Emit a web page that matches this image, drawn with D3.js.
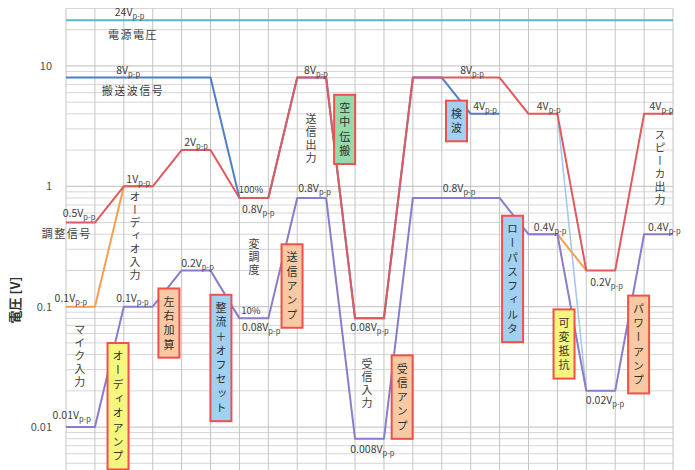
<!DOCTYPE html>
<html>
<head>
<meta charset="utf-8">
<script src="https://cdn.jsdelivr.net/npm/d3@7/dist/d3.min.js"></script>
<style>
  body { margin: 0; background: #fff; }
  text { font-family: "Noto Sans CJK JP", "Noto Sans", sans-serif; fill: #404040; }
  .vtext { writing-mode: vertical-rl; }
</style>
</head>
<body>
<svg id="chart" width="695" height="470"></svg>
<script>
// Signal levels (V p-p) at each stage of the AM transmitter / receiver chain.
const stages = [0,1,2,3,4,5,6,7,8,9,10,11,12,13,14,15,16,17,18,19,20,21];
const supplyV   = [24,24,24,24,24,24,24,24,24,24,24,24,24,24,24,24,24,24,24,24,24,24];
const carrierV  = [8,8,8,8,8,8,0.8,0.8,8,8,0.08,0.08,8,8,4,4,null,null,null,null,null,null];
const volumeMinV = [null,null,null,null,null,null,null,null,null,null,null,null,null,null,null,null,null,4,0.02,null,null,null];
const audioV    = [0.1,0.1,1,1,null,null,null,null,null,null,null,null,null,null,null,null,0.4,0.4,0.2,null,null,null];
const signalV   = [0.5,0.5,1,1,2,2,0.8,0.8,8,8,0.08,0.08,8,8,8,8,4,4,0.2,0.2,4,4];
const micV      = [0.01,0.01,0.1,0.1,0.2,0.2,0.08,0.08,0.8,0.8,0.008,0.008,0.8,0.8,0.8,0.8,0.4,0.4,0.02,0.02,0.4,0.4];
const yTicks = [0.01, 0.1, 1, 10];

// Level labels: stage position, level and vertical nudge
const levelLabels = [
  {i:2.2,  v:24,    dy:-4},
  {i:2.15, v:8,     dy:-4},
  {i:0.45, v:0.5,   dy:-6},
  {i:2.5,  v:1,     dy:-3},
  {i:4.5,  v:2,     dy:-4},
  {i:0.17, v:0.1,   dy:-5},
  {i:2.3,  v:0.1,   dy:-5},
  {i:4.55, v:0.2,   dy:-3},
  {i:0.2,  v:0.01,  dy:-8},
  {i:6.65, v:0.8,   dy:15},
  {i:6.75, v:0.08,  dy:13},
  {i:8.65, v:8,     dy:-4},
  {i:8.6,  v:0.8,   dy:-6},
  {i:10.5, v:0.08,  dy:13},
  {i:10.6, v:0.008, dy:14},
  {i:14.05,v:8,     dy:-4},
  {i:14.5, v:4,     dy:-4},
  {i:13.6, v:0.8,   dy:-6},
  {i:16.7, v:4,     dy:-4},
  {i:16.75,v:0.4,   dy:-3},
  {i:18.7, v:0.2,   dy:16},
  {i:18.65,v:0.02,  dy:13},
  {i:20.6, v:4,     dy:-4},
  {i:20.7, v:0.4,   dy:-3}
];
const percentLabels = [
  {text:"100%", i:6.4, v:0.8,  dy:-5},
  {text:"10%",  i:6.4, v:0.08, dy:-4}
];
const nameLabels = [
  {text:"電源電圧",   i:2.32, v:24,  dy:19},
  {text:"搬送波信号", i:2.32, v:8,   dy:17},
  {text:"調整信号",   i:0.03, v:0.5, dy:15}
];
const verticalLabels = [
  {text:"オーディオ入力", i:2.39,  v:0.379},
  {text:"マイク入力",     i:0.48,  v:0.0382},
  {text:"変調度",         i:6.5,   v:0.254},
  {text:"送信出力",       i:8.48,  v:2.47},
  {text:"受信入力",       i:10.41, v:0.0228},
  {text:"スピーカ出力",   i:20.55, v:1.42}
];
const blockLabels = [
  {text:"オーディオアンプ", i:1.8,   v:0.0149, kind:"yellow"},
  {text:"左右加算",         i:3.56,  v:0.0731, kind:"peach"},
  {text:"整流＋オフセット", i:5.36,  v:0.0375, kind:"blue"},
  {text:"送信アンプ",       i:7.82,  v:0.1485, kind:"peach"},
  {text:"空中伝搬",         i:9.64,  v:2.97,   kind:"green"},
  {text:"受信アンプ",       i:11.63, v:0.01775,kind:"peach"},
  {text:"検波",             i:13.51, v:3.49,   kind:"blue"},
  {text:"ローパスフィルタ", i:15.45, v:0.17,   kind:"blue"},
  {text:"可変抵抗",         i:17.23, v:0.049,  kind:"yellow"},
  {text:"パワーアンプ",     i:19.81, v:0.0485, kind:"peach"}
];
const blockFill = {yellow:"#f6f67e", peach:"#f8c9a2", blue:"#a2d0f0", green:"#95dba9"};

(function draw() {
  const svg = d3.select("#chart");
  const plotLeft = 66, plotRight = 673, plotTop = 8.5, plotBottom = 470;

  const x = d3.scaleLinear().domain([0, 21]).range([plotLeft, plotRight]);
  const y = d3.scaleLog().domain([0.0044, 30]).range([plotBottom, plotTop]);

  // grid
  const grid = svg.append("g");
  const minorVals = [];
  [0.001, 0.01, 0.1, 1, 10].forEach(d => {
    for (let k = 1; k <= 9; k++) {
      const v = +(d * k).toPrecision(3);
      if (v >= 0.0045 && v <= 30) minorVals.push(v);
    }
  });
  grid.selectAll("line.h").data(minorVals).join("line")
    .attr("x1", plotLeft).attr("x2", plotRight)
    .attr("y1", d => y(d)).attr("y2", d => y(d))
    .attr("stroke", d => yTicks.includes(d) ? "#bdbdbd" : "#d6d6d6")
    .attr("stroke-width", 1);
  grid.selectAll("line.v").data(stages).join("line")
    .attr("x1", d => x(d)).attr("x2", d => x(d))
    .attr("y1", plotTop).attr("y2", plotBottom)
    .attr("stroke", "#c4c4c4").attr("stroke-width", 1);

  // y axis
  const yAxis = svg.append("g").attr("transform", `translate(${plotLeft},0)`)
    .call(d3.axisLeft(y).tickValues(yTicks).tickFormat(d => String(d)).tickSize(0).tickPadding(14));
  yAxis.select(".domain").remove();
  yAxis.selectAll("text").style("font-size", "11px").style("fill", "#505050")
    .style("font-family", '"Noto Sans CJK JP", sans-serif');

  svg.append("text")
    .attr("transform", "translate(20,300) rotate(-90)")
    .attr("text-anchor", "middle")
    .style("font-size", "13px").style("font-weight", "bold").style("fill", "#303030")
    .text("電圧 [V]");

  // series
  const line = d3.line()
    .defined(d => d.v != null)
    .x(d => x(d.i)).y(d => y(d.v));
  const series = [
    {vals: supplyV,    color:"#5ab4cc", w:2},
    {vals: carrierV,   color:"#4f7fc6", w:2},
    {vals: volumeMinV, color:"#a6c8ee", w:1.6},
    {vals: audioV,     color:"#f5a04e", w:2},
    {vals: signalV,    color:"#df5a5e", w:2},
    {vals: micV,       color:"#8a7ccc", w:2}
  ];
  svg.append("g").selectAll("path").data(series).join("path")
    .attr("d", s => line(s.vals.map((v, i) => ({i, v}))))
    .attr("fill", "none")
    .attr("stroke", s => s.color)
    .attr("stroke-width", s => s.w)
    .attr("stroke-linejoin", "round");

  // level labels (value + V p-p)
  const lv = svg.append("g").selectAll("text").data(levelLabels).join("text")
    .attr("x", d => x(d.i)).attr("y", d => y(d.v) + d.dy)
    .attr("text-anchor", "middle")
    .style("font-size", "10.5px");
  lv.append("tspan").text(d => String(d.v) + "V");
  lv.append("tspan").attr("dy", 3).style("font-size", "7.5px").text("p-p");

  svg.append("g").selectAll("text").data(percentLabels).join("text")
    .attr("x", d => x(d.i)).attr("y", d => y(d.v) + d.dy)
    .attr("text-anchor", "middle")
    .style("font-size", "9.5px")
    .text(d => d.text);

  svg.append("g").selectAll("text").data(nameLabels).join("text")
    .attr("x", d => x(d.i)).attr("y", d => y(d.v) + d.dy)
    .attr("text-anchor", "middle")
    .style("font-size", "11px").style("letter-spacing", "1.5px")
    .text(d => d.text);

  svg.append("g").selectAll("text").data(verticalLabels).join("text")
    .attr("class", "vtext")
    .attr("x", d => x(d.i)).attr("y", d => y(d.v))
    .attr("text-anchor", "middle")
    .style("font-size", "11px").style("letter-spacing", "2px")
    .text(d => d.text);

  // processing blocks
  const blocks = svg.append("g").selectAll("g").data(blockLabels).join("g");
  blocks.each(function(d) {
    const g = d3.select(this);
    const cx = x(d.i), cy = y(d.v);
    const h = d.text.length * 14.3 + 12;
    g.append("rect")
      .attr("x", cx - 10.5).attr("y", cy - h / 2)
      .attr("width", 21).attr("height", h)
      .attr("fill", blockFill[d.kind])
      .attr("stroke", "#f0504c").attr("stroke-width", 2);
    g.append("text")
      .attr("class", "vtext")
      .attr("x", cx).attr("y", cy + 1.5)
      .attr("text-anchor", "middle")
      .style("font-size", "11px").style("letter-spacing", "3.3px")
      .style("fill", "#303030")
      .text(d.text);
  });
})();
</script>
</body>
</html>
